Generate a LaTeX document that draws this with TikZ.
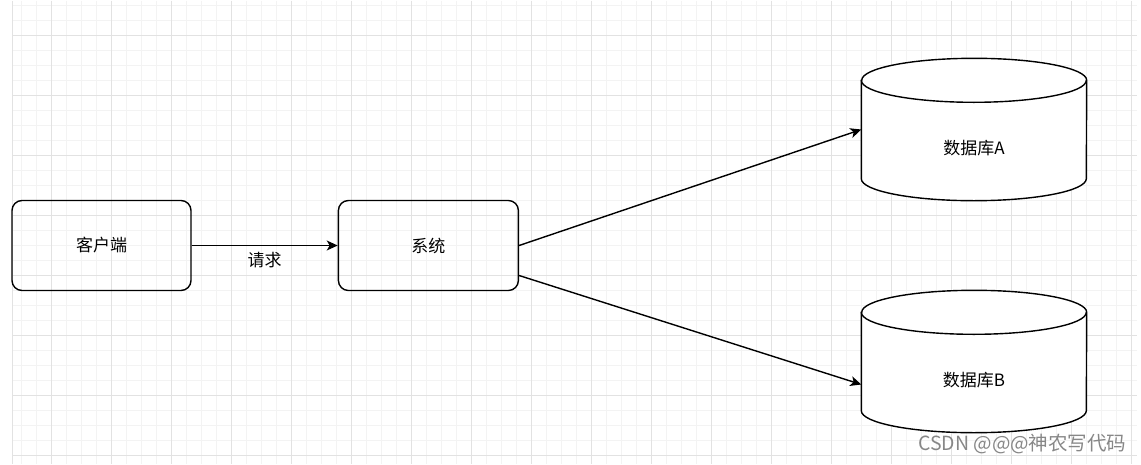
\documentclass[tikz,border=0pt]{standalone}
\usepackage{fontspec}
\setmainfont{Noto Sans CJK SC}
\usetikzlibrary{arrows.meta,positioning}
\tikzstyle{box} = [draw, rounded corners=10pt, line width=1.4pt, minimum width=179pt, minimum height=90pt]
\tikzstyle{db} = [minimum width=225pt, minimum height=142pt, inner sep=0pt]
\tikzstyle{dbline} = [draw, line width=1.4pt, fill=white]
\tikzstyle{link} = [draw, line width=1.4pt, -{Stealth[length=11pt,width=10pt,inset=3pt]}]
\definecolor{gridmajor}{RGB}{226,226,226}
\definecolor{gridminor}{RGB}{243,243,243}
\definecolor{wmgray}{RGB}{135,135,135}

\begin{document}
\begin{tikzpicture}[x=1pt,y=1pt,font=\fontsize{17}{20}\selectfont]
  \fill[white] (0,0) rectangle (1141,-463);
  \foreach \x in {21.7,36.7,...,1137} \draw[gridminor,line width=1pt] (\x,0) -- (\x,-463);
  \foreach \y in {5,20,...,463} \draw[gridminor,line width=1pt] (12,-\y) -- (1137,-\y);
  \foreach \x in {51.7,111.7,...,1137} \draw[gridmajor,line width=1pt] (\x,0) -- (\x,-463);
  \foreach \y in {35,95,...,463} \draw[gridmajor,line width=1pt] (12,-\y) -- (1137,-\y);
  \draw[gridmajor,line width=1pt] (12,0) -- (12,-463);

  \node[box] (client) at (101.5,-245) {客户端};
  \node[box, minimum width=180pt, right=146pt of client] (sys) {系统};
  \node[db] (dbA) at (974,-129) {};
  \node[db] (dbB) at (974,-361) {};
  \foreach \n/\t in {dbA/数据库A, dbB/数据库B} {
    \draw[dbline] ([yshift=-22pt]\n.north west) -- ([yshift=22pt]\n.south west)
      arc[start angle=180, end angle=360, x radius=112.5pt, y radius=22pt]
      -- ([yshift=-22pt]\n.north east)
      arc[start angle=0, end angle=180, x radius=112.5pt, y radius=22pt] -- cycle;
    \draw[line width=1.4pt] ([yshift=-22pt]\n.north west)
      arc[start angle=180, end angle=360, x radius=112.5pt, y radius=22pt];
    \node (\n-text) at ([yshift=-19pt]\n.center) {\t};
  }

  \draw[link] (client) -- node[below=3pt] {请求} (sys);
  \draw[link] (sys.east) -- (dbA.west);
  \draw[link] ([yshift=-30pt]sys.east) -- ([yshift=-23pt]dbB.west);

  \node[text=wmgray, anchor=east, font=\fontsize{19.5}{22}\selectfont] (csdn) at (1130,-443) {CSDN @@@神农写代码};
\end{tikzpicture}
\end{document}
